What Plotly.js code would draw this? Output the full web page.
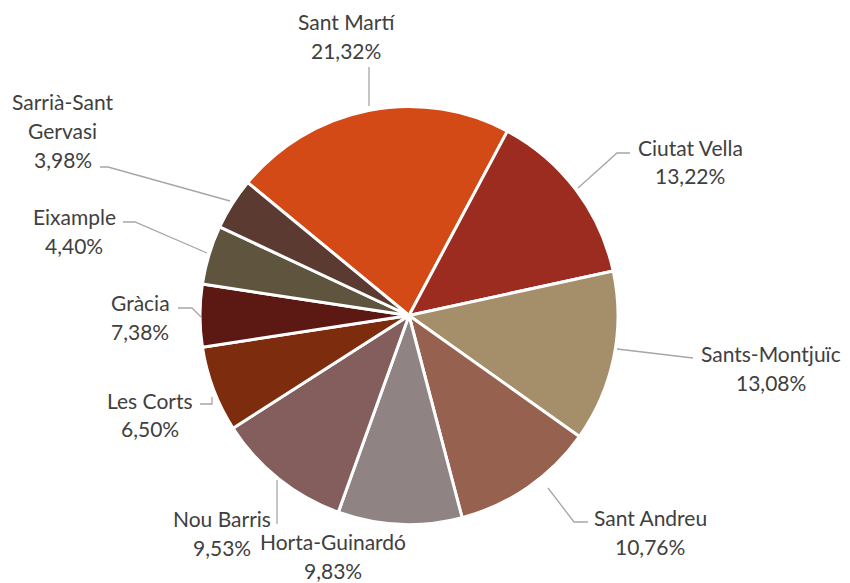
<!DOCTYPE html>
<html>
<head>
<meta charset="utf-8">
<script src="https://cdn.plot.ly/plotly-3.0.1.min.js"></script>
<style>html,body{margin:0;padding:0;background:#fff;}#chart{width:850px;height:583px;}</style>
</head>
<body>
<div id="chart"></div>
<script>
// ---- data ----
var districts = ["Sant Martí", "Ciutat Vella", "Sants-Montjuïc", "Sant Andreu", "Horta-Guinardó",
                 "Nou Barris", "Les Corts", "Gràcia", "Eixample", "Sarrià-Sant Gervasi"];
// slice sizes as drawn in the picture (share of the circle, %)
var sliceShares = [21.83, 13.78, 13.25, 11.08, 9.58, 10.44, 6.64, 4.83, 4.56, 4.01];
// percentages printed in the data labels
var labelPercents = ["21,32%", "13,22%", "13,08%", "10,76%", "9,83%", "9,53%", "6,50%", "7,38%", "4,40%", "3,98%"];
var sliceColors = ["#D34A17", "#9B2C1F", "#A58E6A", "#96614F", "#8F8383",
                   "#845D5D", "#7E2C0E", "#5C1914", "#5F553E", "#5B3B31"];

// ---- layout helpers (pixel positions of labels and leader lines) ----
var W = 850, H = 583;
function px(x) { return x / W; }
function py(y) { return 1 - y / H; }
var labelAnchors = [[346, 22], [690, 147], [771, 353], [650, 517], [333, 541],
                    [222, 518], [150, 400], [140, 302], [74, 216], [63, 101]];
var leaderPaths = [
  [[369, 67], [369, 106]],
  [[630, 153], [617, 153], [578, 188]],
  [[617, 349], [693, 358]],
  [[548, 488], [574, 522], [588, 522]],
  null,
  [[277, 480], [277, 524]],
  [[200, 404], [212, 404], [212, 397]],
  [[178, 308], [192, 308], [201, 317]],
  [[123, 222], [135, 222], [207, 253]],
  [[100, 167], [108, 167], [230, 201]]
];
var LINE = 29;
var textFont = {family: "Lato, 'Open Sans', sans-serif", size: 21, color: "#404040"};

function wrapName(name) {
  if (name.length > 15 && name.indexOf(" ") > 0) {
    var k = name.indexOf(" ");
    return [name.slice(0, k), name.slice(k + 1)];
  }
  return [name];
}

var annotations = [];
var shapes = [];
districts.forEach(function (d, i) {
  var lines = wrapName(d).concat([labelPercents[i]]);
  var a = labelAnchors[i];
  lines.forEach(function (t, j) {
    annotations.push({
      text: t, showarrow: false, xref: "paper", yref: "paper",
      x: px(a[0]), y: py(a[1] + j * LINE), xanchor: "center", yanchor: "middle",
      font: textFont
    });
  });
  var p = leaderPaths[i];
  if (p) {
    var path = p.map(function (pt, k) {
      return (k === 0 ? "M" : "L") + px(pt[0]).toFixed(5) + "," + py(pt[1]).toFixed(5);
    }).join(" ");
    shapes.push({type: "path", xref: "paper", yref: "paper", path: path,
                 line: {color: "#A6A6A6", width: 1.3}});
  }
});

var cx = 409, cy = 315.5, R = 209;
var trace = {
  type: "pie",
  labels: districts,
  values: sliceShares,
  sort: false,
  direction: "clockwise",
  rotation: -50.5,
  marker: {colors: sliceColors, line: {color: "#FFFFFF", width: 3}},
  textinfo: "none",
  hoverinfo: "label",
  showlegend: false,
  domain: {x: [px(cx - R), px(cx + R)], y: [py(cy + R), py(cy - R)]}
};

var layout = {
  width: W, height: H,
  margin: {l: 0, r: 0, t: 0, b: 0},
  paper_bgcolor: "#FFFFFF",
  showlegend: false,
  annotations: annotations,
  shapes: shapes
};

Plotly.newPlot("chart", [trace], layout, {staticPlot: true, displayModeBar: false});
</script>
</body>
</html>
